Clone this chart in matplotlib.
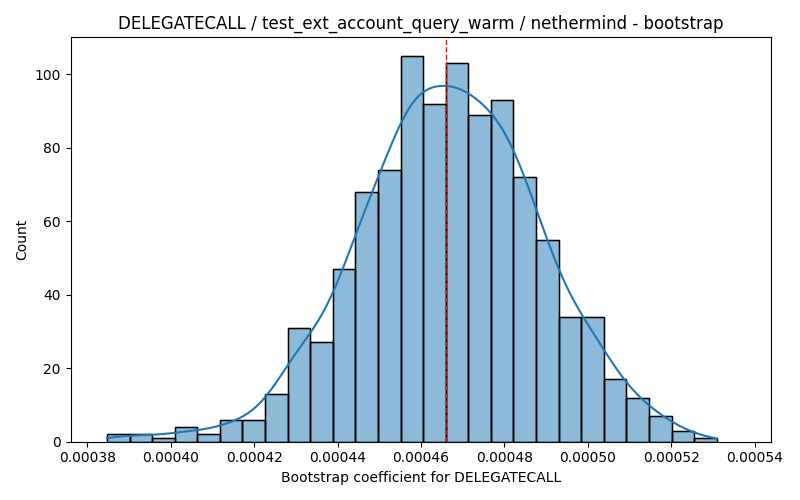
import numpy as np
import matplotlib
matplotlib.use("Agg")
import matplotlib.pyplot as plt

# histogram
bin_start = 0.0003847
bin_end = 0.0005309
counts = [2, 2, 1, 4, 2, 6, 6, 13, 31, 27, 47, 68, 74, 105, 92, 103, 89, 93,
          72, 55, 34, 34, 17, 12, 7, 3, 1]
mean_value = 0.000466

edges = np.linspace(bin_start, bin_end, len(counts) + 1)
width = edges[1] - edges[0]
centers = (edges[:-1] + edges[1:]) / 2
w = np.array(counts, dtype=float)
n = w.sum()

# weighted gaussian kde (scott bandwidth), scaled to counts
mu = np.sum(w * centers) / n
sd = np.sqrt(np.sum(w * (centers - mu) ** 2) / n)
bw = sd * n ** (-1 / 5)
xs = np.linspace(edges[0], edges[-1], 300)
dens = np.sum(w[:, None] * np.exp(-0.5 * ((xs[None, :] - centers[:, None]) / bw) ** 2), axis=0)
dens = dens / (n * bw * np.sqrt(2 * np.pi))
kde_counts = dens * n * width

fig, ax = plt.subplots(figsize=(8, 5), dpi=100)
ax.bar(edges[:-1], counts, width=width, align="edge", color="#1f77b4", alpha=0.5,
       edgecolor="black", linewidth=1)
ax.bar(edges[:-1], counts, width=width, align="edge", fill=False,
       edgecolor="black", linewidth=1)
ax.plot(xs, kde_counts, color="#1f77b4", linewidth=1.5)
ax.axvline(mean_value, color="red", linestyle="--", linewidth=1)
ax.set_xlim(0.000376, 0.000544)
ax.set_ylim(0, 110)
ax.set_xlabel("Bootstrap coefficient for DELEGATECALL")
ax.set_ylabel("Count")
ax.set_title("DELEGATECALL / test_ext_account_query_warm / nethermind - bootstrap")
plt.tight_layout()
plt.savefig("out.png")
